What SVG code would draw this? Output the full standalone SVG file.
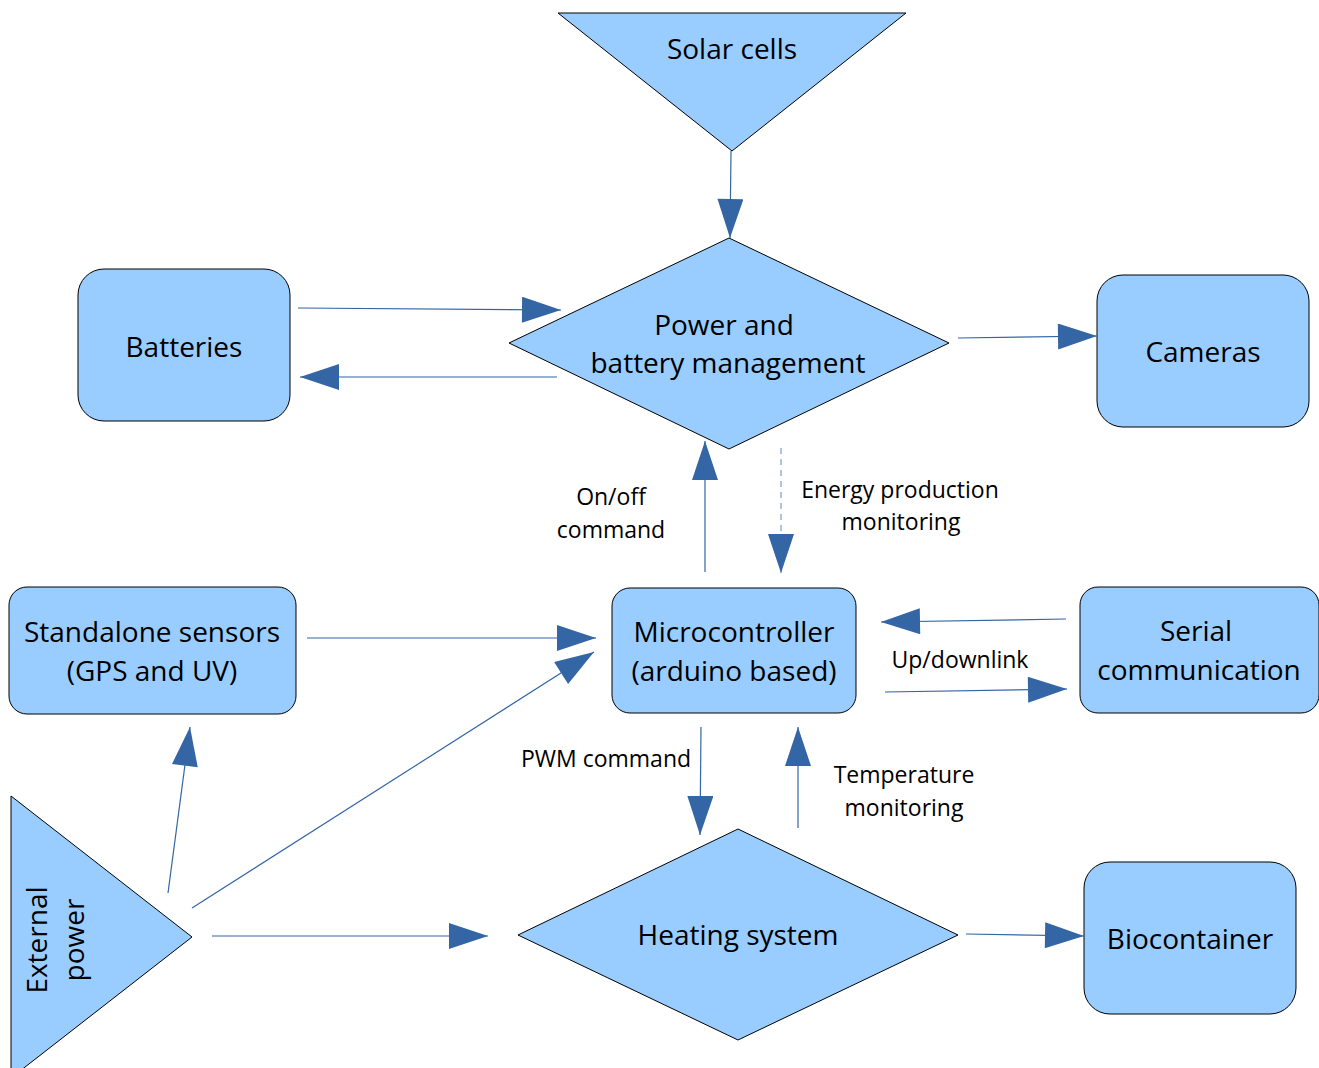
<svg xmlns="http://www.w3.org/2000/svg" width="1319" height="1068" viewBox="0 0 1319 1068">
<defs>
<marker id="ah" markerUnits="userSpaceOnUse" markerWidth="40" markerHeight="26" viewBox="0 0 39 26" refX="39" refY="13" orient="auto">
<path d="M0,0 L39,13 L0,26 z" fill="#3465a4"/>
</marker>
</defs>
<style>
.shape{fill:#99ccff;stroke:#000;stroke-width:1}
.lbl{font-family:"Open Sans",Lato,sans-serif;font-size:28px;fill:#000;text-anchor:middle}
.sm{font-family:"Open Sans",Lato,sans-serif;font-size:23px;fill:#000;text-anchor:middle}
.con{stroke:#3465a4;stroke-width:1.2;fill:none;marker-end:url(#ah)}
.dash{stroke:#729fcf;stroke-dasharray:6,5}
</style>
<rect width="1319" height="1068" fill="#fff"/>
<g id="solar"><polygon class="shape" points="558,13 906,13 732,151"/><text class="lbl" x="732" y="59">Solar cells</text></g>
<g id="pbm"><polygon class="shape" points="509,343 729,238 949,343 729,449"/><text class="lbl" x="724" y="335">Power and</text><text class="lbl" x="728" y="373">battery management</text></g>
<g id="batteries"><rect class="shape" x="78" y="269" width="212" height="152" rx="26"/><text class="lbl" x="184" y="357">Batteries</text></g>
<g id="cameras"><rect class="shape" x="1097" y="275" width="212" height="152" rx="26"/><text class="lbl" x="1203" y="362">Cameras</text></g>
<g id="micro"><rect class="shape" x="612" y="588" width="244" height="125" rx="18"/><text class="lbl" x="734" y="642">Microcontroller</text><text class="lbl" x="734" y="681">(arduino based)</text></g>
<g id="sensors"><rect class="shape" x="9" y="587" width="287" height="127" rx="18"/><text class="lbl" x="152" y="642">Standalone sensors</text><text class="lbl" x="152" y="681">(GPS and UV)</text></g>
<g id="serial"><rect class="shape" x="1080" y="587" width="239" height="126" rx="18"/><text class="lbl" x="1196" y="641">Serial</text><text class="lbl" x="1199" y="680">communication</text></g>
<g id="external"><polygon class="shape" points="11,796 192,937 11,1078"/><text class="lbl" transform="rotate(-90 56 940)" x="56" y="931">External</text><text class="lbl" transform="rotate(-90 56 940)" x="56" y="968">power</text></g>
<g id="heating"><polygon class="shape" points="518,935 738,829 958,935 738,1040"/><text class="lbl" x="738" y="945">Heating system</text></g>
<g id="bio"><rect class="shape" x="1084" y="862" width="212" height="152" rx="26"/><text class="lbl" x="1190" y="949">Biocontainer</text></g>
<g id="connectors">
<line class="con" x1="731" y1="151" x2="730" y2="238"/>
<line class="con" x1="298" y1="308" x2="561" y2="310"/>
<line class="con" x1="557" y1="377" x2="300" y2="377"/>
<line class="con" x1="958" y1="338" x2="1097" y2="336"/>
<line class="con" x1="705" y1="572" x2="705" y2="441"/>
<line class="con dash" x1="781" y1="448" x2="781" y2="573"/>
<line class="con" x1="1066" y1="619" x2="881" y2="622"/>
<line class="con" x1="885" y1="692" x2="1067" y2="689"/>
<line class="con" x1="307" y1="638" x2="596" y2="638"/>
<line class="con" x1="192" y1="908" x2="594" y2="652"/>
<line class="con" x1="168" y1="893" x2="190" y2="727"/>
<line class="con" x1="212" y1="936" x2="488" y2="936"/>
<line class="con" x1="966" y1="934" x2="1084" y2="936"/>
<line class="con" x1="701" y1="727" x2="700" y2="835"/>
<line class="con" x1="798" y1="828" x2="798" y2="727"/>
<text class="sm" x="611" y="505">On/off</text>
<text class="sm" x="611" y="538">command</text>
<text class="sm" x="900" y="498">Energy production</text>
<text class="sm" x="901" y="530">monitoring</text>
<text class="sm" x="960" y="668">Up/downlink</text>
<text class="sm" x="606" y="767">PWM command</text>
<text class="sm" x="904" y="783">Temperature</text>
<text class="sm" x="904" y="816">monitoring</text>
</g>
</svg>
